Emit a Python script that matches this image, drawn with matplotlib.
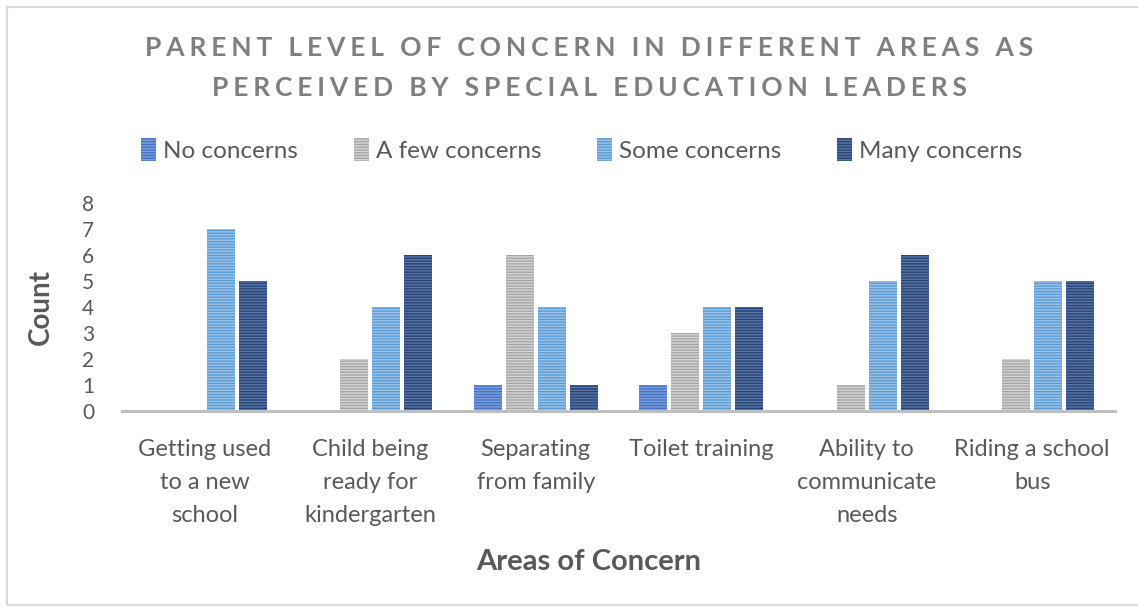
import numpy as np
import matplotlib
matplotlib.use('Agg')
import matplotlib.pyplot as plt

categories = ['Getting used\nto a new\nschool', 'Child being\nready for\nkindergarten',
              'Separating\nfrom family', 'Toilet training',
              'Ability to\ncommunicate\nneeds', 'Riding a school\nbus']
series = ['No concerns', 'A few concerns', 'Some concerns', 'Many concerns']
no_concerns = [0, 0, 1, 1, 0, 0]
few_concerns = [0, 2, 6, 3, 1, 2]
some_concerns = [7, 4, 4, 4, 5, 5]
many_concerns = [5, 6, 1, 4, 6, 5]
values = [no_concerns, few_concerns, some_concerns, many_concerns]

colors = ['#4472c4', '#a5a5a5', '#5b9bd5', '#264478']
stripes = ['#7fa0dc', '#d4d4d4', '#9cc3e8', '#5a74a3']

plt.rcParams['font.family'] = ['Lato', 'DejaVu Sans']
plt.rcParams['hatch.linewidth'] = 1.0
txt = '#595959'

fig = plt.figure(figsize=(11.38, 6.07), dpi=100)
ax = fig.add_axes([122/1138, 1 - 411/607, (1115 - 122)/1138, 208/607])

x = np.arange(len(categories))
step = 0.193
width = 0.169
for i, (name, vals) in enumerate(zip(series, values)):
    ax.bar(x + (i - 1.5) * step, vals, width, color=colors[i], edgecolor=stripes[i],
           linewidth=0, hatch='------', label=name)

ax.set_xlim(-0.5, len(categories) - 0.5)
ax.set_ylim(0, 8)
ax.set_yticks(range(9))
ax.set_xticks(x)
ax.set_xticklabels(categories, fontsize=17, color=txt, linespacing=1.72, va='top')
ax.tick_params(axis='x', length=0, pad=20)
ax.tick_params(axis='y', length=0, pad=20, labelsize=15, labelcolor=txt)
for s in ['top', 'right', 'left']:
    ax.spines[s].set_visible(False)
ax.spines['bottom'].set_color('#bfbfbf')
ax.spines['bottom'].set_linewidth(2.2)

ax.set_ylabel('Count', fontsize=20, fontweight='bold', color=txt, labelpad=20)
fig.text(589/1138, 1 - 562/607, 'Areas of Concern', fontsize=21, fontweight='bold',
         color=txt, ha='center', va='center')

title_lines = ['PARENT LEVEL OF CONCERN IN DIFFERENT AREAS AS',
               'PERCEIVED BY SPECIAL EDUCATION LEADERS']
title = '\n'.join('\u200a\u200a\u200a'.join(line) for line in title_lines)
fig.text(589/1138, 1 - 68/607, title, fontsize=19, fontweight='bold', color='#7f7f7f',
         ha='center', va='center', linespacing=1.75)

leg = fig.legend(loc='center', bbox_to_anchor=(582/1138, 1 - 150/607), ncol=4,
                 frameon=False, fontsize=17.5, handlelength=0.6, handleheight=1.1,
                 columnspacing=2.3, handletextpad=0.3, labelcolor=txt)

fig.patches.append(plt.Rectangle((7/1138, 2/607), 1.2, 1 - 9/607, transform=fig.transFigure,
                                 fill=False, edgecolor='#d9d9d9', linewidth=1.5))

plt.savefig('out.png', dpi=100)
